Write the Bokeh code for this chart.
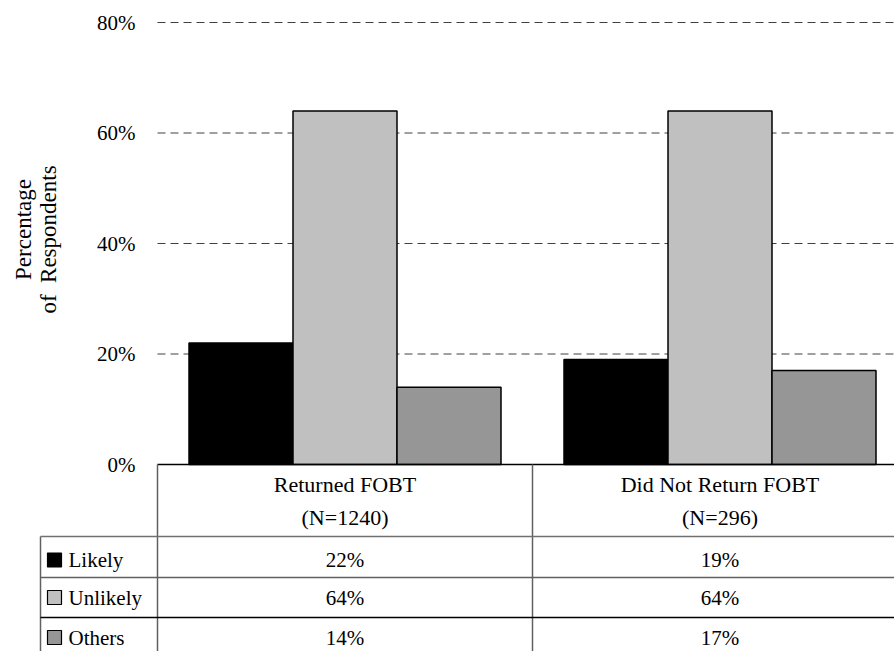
from bokeh.plotting import figure
from bokeh.models import Range1d
from bokeh.core.properties import value
from bokeh.embed import file_html
from bokeh.resources import INLINE

# ---- data -------------------------------------------------------------
groups = ["Returned FOBT", "Did Not Return FOBT"]
group_n = [1240, 296]
series = ["Likely", "Unlikely", "Others"]
likely = [22, 19]
unlikely = [64, 64]
others = [14, 17]
series_values = [likely, unlikely, others]
series_colors = ["#000000", "#c0c0c0", "#969696"]
y_ticks = [0, 20, 40, 60, 80]

# ---- layout helpers (canvas pixels -> data units) ----------------------
W, H = 894, 651
LEFT_PX = 157        # left edge of the first category
CAT_PX = 375         # width of one category
ZERO_PX = 464        # baseline of the bars
PX_PER_PCT = 442 / 80


def px_x(px):
    return (px - LEFT_PX) / CAT_PX


def px_y(py):
    return (ZERO_PX - py) / PX_PER_PCT


FONT = value("Liberation Serif")

p = figure(width=W, height=H, title=None,
           x_range=Range1d(px_x(0), px_x(W)),
           y_range=Range1d(px_y(H), px_y(0)),
           x_axis_location=None, y_axis_location=None,
           toolbar_location=None, output_backend="svg",
           min_border=0, min_border_left=0, min_border_right=0,
           min_border_top=0, min_border_bottom=0,
           outline_line_color=None,
           background_fill_color="white", border_fill_color="white")
p.grid.visible = False

n_cat = len(groups)
y_bottom = px_y(H)

# dashed gridlines across the category area
grid_vals = [t for t in y_ticks if t > 0]
p.segment(x0=[0] * len(grid_vals), x1=[n_cat] * len(grid_vals),
          y0=grid_vals, y1=grid_vals,
          line_color="#404040", line_width=1, line_dash="8 5")

# clustered bars
bar_w = 104 / CAT_PX
offsets = [-bar_w, 0, bar_w]
for k in range(len(series)):
    xs = [i + 0.5 + offsets[k] for i in range(n_cat)]
    p.vbar(x=xs, top=series_values[k], bottom=0, width=bar_w,
           fill_color=series_colors[k], line_color="black", line_width=1.5)

# y tick labels
p.text(x=[px_x(135)] * len(y_ticks), y=y_ticks,
       text=[f"{t}%" for t in y_ticks],
       text_font=FONT, text_font_size="21px", text_color="black",
       text_align="right", text_baseline="middle")

# axis title (two lines, rotated)
p.text(x=[px_x(22.5), px_x(48)], y=[px_y(229), px_y(239)],
       text=["Percentage", "of\u00a0\u00a0Respondents"], angle=1.5707963,
       text_font=FONT, text_font_size="23px", text_color="black",
       text_align="center", text_baseline="middle")

# ---- data table -------------------------------------------------------
row_lines_px = [536, 577, 617]
row_centers_px = [559.5, 597, 637]
table_left = px_x(40)

# top edge of the table / category axis line
p.segment(x0=[0], x1=[n_cat], y0=[0], y1=[0], line_color="black", line_width=1.5)
# category column dividers
p.segment(x0=list(range(n_cat)), x1=list(range(n_cat)),
          y0=[0] * n_cat, y1=[y_bottom] * n_cat,
          line_color="#606060", line_width=1.5)
# legend column left edge
p.segment(x0=[table_left], x1=[table_left],
          y0=[px_y(row_lines_px[0])], y1=[y_bottom],
          line_color="#606060", line_width=1.5)
# row separators
p.segment(x0=[table_left] * 3, x1=[n_cat] * 3,
          y0=[px_y(r) for r in row_lines_px], y1=[px_y(r) for r in row_lines_px],
          line_color=["#707070", "#606060", "#000000"], line_width=1.5)

# header: group names and sample sizes
centers = [i + 0.5 for i in range(n_cat)]
p.text(x=centers, y=[px_y(483.5)] * n_cat, text=groups,
       text_font=FONT, text_font_size="22px", text_color="black",
       text_align="center", text_baseline="middle")
p.text(x=centers, y=[px_y(517)] * n_cat, text=[f"(N={n})" for n in group_n],
       text_font=FONT, text_font_size="22px", text_color="black",
       text_align="center", text_baseline="middle")

# legend keys and series names
row_y = [px_y(c) for c in row_centers_px]
p.scatter(x=[px_x(54)] * len(series), y=row_y, marker="square", size=14,
          fill_color=series_colors, line_color="black", line_width=1.2)
p.text(x=[px_x(68)] * len(series), y=row_y, text=series,
       text_font=FONT, text_font_size="21px", text_color="black",
       text_align="left", text_baseline="middle")

# value cells
for k in range(len(series)):
    p.text(x=centers, y=[row_y[k]] * n_cat,
           text=[f"{v}%" for v in series_values[k]],
           text_font=FONT, text_font_size="21px", text_color="black",
           text_align="center", text_baseline="middle")

open("out.html", "w").write(file_html(p, INLINE))
